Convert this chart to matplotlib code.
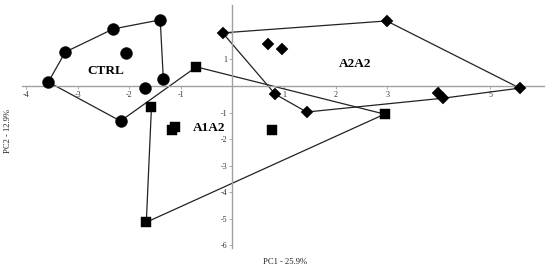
import matplotlib
matplotlib.use("Agg")
import matplotlib.pyplot as plt

# ---- data (PC1, PC2) ----
ctrl_x = [-3.57, -3.24, -2.31, -1.40, -1.34, -2.17, -2.06, -1.69]
ctrl_y = [0.15, 1.28, 2.15, 2.49, 0.26, -1.32, 1.25, -0.08]

a1a2_x = [-0.70, -1.57, -1.67, 2.95, -1.18, -1.11, 0.76]
a1a2_y = [0.72, -0.79, -5.13, -1.06, -1.66, -1.55, -1.66]

a2a2_x = [-0.19, 0.68, 0.97, 0.83, 1.44, 2.99, 5.57, 3.98, 4.08]
a2a2_y = [2.00, 1.58, 1.40, -0.31, -0.98, 2.45, -0.08, -0.27, -0.46]

# outline paths (indices into each group)
ctrl_path = [4, 3, 2, 1, 0, 5]
a1a2_path = [0, 3, 2, 1]
a2a2_path = [0, 5, 6, 8, 4, 3, 0]

x_ticks = [-4, -3, -2, -1, 1, 2, 3, 4, 5]
y_ticks = [-6, -5, -4, -3, -2, -1, 1, 2]
x_label = "PC1 - 25.9%"
y_label = "PC2 - 12.9%"

plt.rcParams['font.family'] = ['Liberation Serif', 'DejaVu Serif']

fig = plt.figure(figsize=(5.5, 2.71), dpi=100)
W, H = 550, 271
ax = fig.add_axes([22 / W, 1 - 248 / H, (544 - 22) / W, (248 - 5) / H])
ax.set_xlim(-4.08, 6.04)
ax.set_ylim(-6.1, 3.05)

# outlines: CTRL path continues into A1A2 path
px = [ctrl_x[i] for i in ctrl_path] + [a1a2_x[i] for i in a1a2_path]
py = [ctrl_y[i] for i in ctrl_path] + [a1a2_y[i] for i in a1a2_path]
ax.plot(px, py, color='#222222', lw=0.9, zorder=2)
ax.plot([a2a2_x[i] for i in a2a2_path], [a2a2_y[i] for i in a2a2_path],
        color='#222222', lw=0.9, zorder=2)

ax.plot(ctrl_x, ctrl_y, 'o', ms=8.6, color='black', mew=0.3, ls='none', zorder=3)
ax.plot(a1a2_x, a1a2_y, 's', ms=7.8, color='black', mew=0.3, ls='none', zorder=3)
ax.plot(a2a2_x, a2a2_y, 'D', ms=6.6, color='black', mew=0.3, ls='none', zorder=3)

ax.text(-2.45, 0.57, "CTRL", fontsize=9.5, fontweight='bold', ha='center', va='center')
ax.text(-0.45, -1.6, "A1A2", fontsize=9.5, fontweight='bold', ha='center', va='center')
ax.text(2.37, 0.83, "A2A2", fontsize=9.5, fontweight='bold', ha='center', va='center')

for s in ['top', 'right']:
    ax.spines[s].set_visible(False)
for s in ['left', 'bottom']:
    ax.spines[s].set_position(('data', 0))
    ax.spines[s].set_color('#a0a0a0')
    ax.spines[s].set_linewidth(1.0)

ax.set_xticks(x_ticks)
ax.set_yticks(y_ticks)
ax.set_xticklabels([str(t) for t in x_ticks])
ax.set_yticklabels([str(t) for t in y_ticks])
ax.tick_params(axis='both', length=2, width=0.6, color='#a0a0a0',
               labelsize=5.8, labelcolor='#333333', pad=1.5, direction='out')
ax.patch.set_visible(False)

fig.text(285 / W, 1 - 262 / H, x_label, fontsize=6.2, ha='center', va='center', color='#222222')
fig.text(8 / W, 1 - 131 / H, y_label, fontsize=6.2, ha='center', va='center',
         rotation=90, color='#222222')

fig.savefig("out.png", dpi=100)
